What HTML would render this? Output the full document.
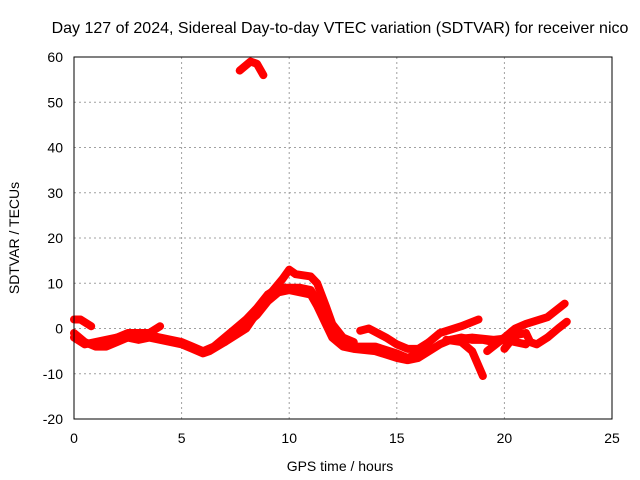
<!DOCTYPE html>
<html><head><meta charset="utf-8"><style>
body{margin:0;background:#fff}
svg{display:block;font-family:"Liberation Sans",sans-serif}
</style></head><body>
<svg id="chart" width="640" height="480">
<rect width="640" height="480" fill="#fff"/>
<text x="340" y="33" text-anchor="middle" font-size="16">Day 127 of 2024, Sidereal Day-to-day VTEC variation (SDTVAR) for receiver nico</text>
<g id="grid"></g>
<g id="series"></g>
<rect x="74" y="57" width="538" height="362" fill="none" stroke="#000" stroke-width="1"/>
<g id="ticks"></g>
<text x="340" y="471" text-anchor="middle" font-size="14">GPS time / hours</text>
<text transform="translate(19,238) rotate(-90)" text-anchor="middle" font-size="14">SDTVAR / TECUs</text>
</svg>
<script>
const xTicks=[0,5,10,15,20,25];
const yTicks=[-20,-10,0,10,20,30,40,50,60];
const track1=[[0,-1],[0.5,-3],[1,-4],[1.5,-4],[2,-3],[2.5,-2],[3,-2.5],[3.5,-2],[4,-2.5],[4.5,-3],[5,-3.5],[5.5,-4.5],[6,-5.5],[6.3,-5],[7,-3],[7.5,-1],[8,1],[8.5,3],[9,6],[9.5,8],[10,8.5],[10.5,8],[11,7.5],[11.3,5],[11.7,1],[12,-2],[12.5,-4],[13,-4.5],[14,-5],[15,-6.5],[15.5,-7],[16,-6.5],[16.5,-5],[17,-3.5],[17.5,-2.5],[18,-2],[18.5,-2.5],[19,-2.5],[19.5,-3],[20,-2.5],[20.5,-3],[21,-3.5]];
const track1b=[[0,-2],[0.5,-3.5],[1,-3],[1.5,-2.5],[2,-2],[2.5,-1.5],[3,-2],[3.5,-1.5],[4,-2],[4.5,-2.5],[5,-3],[5.5,-4],[6,-5],[6.5,-4],[7,-2],[7.5,0],[8,2],[8.5,4.5],[9,7.5],[9.5,9],[10,9],[10.5,9],[11,8.5],[11.3,6],[11.7,2],[12,-1.5],[12.5,-3],[13,-4],[14,-4],[15,-5.5],[15.5,-6.5],[16,-5.5],[16.5,-4]];
const track2=[[6.5,-4],[7,-3],[8,0],[9,7],[9.7,11],[10,13],[10.3,12],[11,11.5],[11.3,10],[11.7,5],[12,1],[12.5,-2],[13,-3]];
const track3=[[0,2],[0.3,2],[0.8,0.5]];
const track4=[[1.5,-3.5],[2,-2],[2.5,-1],[3,-1],[3.5,-1],[4,0.5]];
const track5=[[13.3,-0.5],[13.7,0],[14.5,-2],[15,-3.5],[15.5,-4.5],[16,-4.5],[16.5,-3]];
const track6=[[16.5,-3],[17,-1],[18,0.5],[18.8,2]];
const track7=[[17.3,-2.5],[18,-3],[18.5,-5],[19,-10.5]];
const track8=[[17.5,-2.5],[18.5,-2],[19.5,-2.5],[20.5,-2]];
const track9=[[19.2,-5],[20,-2],[20.5,0],[21,1],[22,2.5],[22.8,5.5]];
const track10=[[20,-4.5],[20.5,-1.5],[21,-1],[21.2,-3],[21.5,-3.5],[22,-2],[22.5,0],[22.9,1.5]];
const track11=[[7.7,57],[8.2,59],[8.5,58.5],[8.8,56]];
const tracks=[track1,track1b,track2,track3,track4,track5,track6,track7,track8,track9,track10,track11];
const X=h=>74+h*(538/25);
const Y=v=>57+(60-v)*(362/80);
const NS="http://www.w3.org/2000/svg";
const grid=document.getElementById('grid'),tk=document.getElementById('ticks'),sr=document.getElementById('series');
function mk(tag,p,parent){const e=document.createElementNS(NS,tag);for(const k in p)e.setAttribute(k,p[k]);parent.appendChild(e);return e;}
xTicks.forEach(t=>{
 if(t>0&&t<25){const g=mk('line',{x1:X(t),x2:X(t),y1:57,y2:419,stroke:'#a0a0a0','stroke-dasharray':'2,3'},grid);
 
 }
 const l=mk('text',{x:X(t),y:443,'text-anchor':'middle','font-size':14},tk);l.textContent=t;
 
 
});
yTicks.forEach(t=>{
 if(t>-20&&t<60){const g=mk('line',{x1:74,x2:612,y1:Y(t),y2:Y(t),stroke:'#a0a0a0','stroke-dasharray':'2,3'},grid);
 
 }
 const l=mk('text',{x:63,y:Y(t)+5,'text-anchor':'end','font-size':14},tk);l.textContent=t;
 
 
});
tracks.forEach((tr,i)=>{
 const p=mk('polyline',{points:tr.map(d=>X(d[0])+','+Y(d[1])).join(' '),fill:'none',stroke:'#ff0000','stroke-width':8,'stroke-linejoin':'round','stroke-linecap':'round'},sr);
 
 
});
</script>
</body></html>
